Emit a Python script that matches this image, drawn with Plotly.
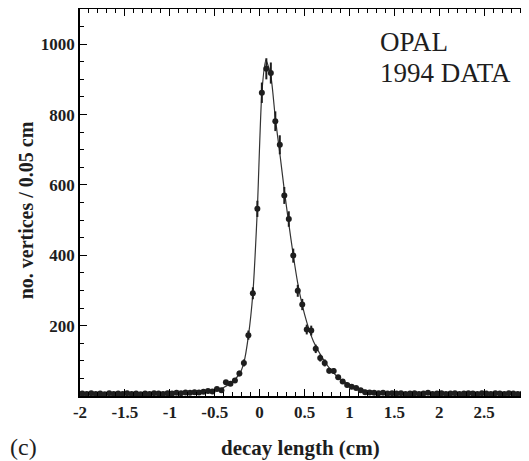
import numpy as np
import plotly.graph_objects as go

# bin layout: 0.05 cm bins from -2 to 3 cm
bin_lo = -2.0
bin_width = 0.05

# vertices per bin
counts = [7, 6, 8, 6, 7, 5, 8, 6, 7, 6,
          8, 6, 7, 5, 7, 6, 8, 7, 6, 8,
          7, 9, 8, 10, 9, 11, 10, 12, 14, 13,
          20, 16, 39, 35, 44, 64, 94, 173, 292, 532,
          862, 930, 918, 781, 714, 570, 503, 399, 299, 260,
          189, 186, 134, 108, 94, 72, 71, 53, 41, 31,
          26, 23, 16, 11, 10, 9, 8, 9, 7, 8,
          7, 8, 6, 7, 8, 6, 7, 9, 6, 7,
          8, 6, 7, 8, 6, 7, 8, 7, 6, 8,
          7, 6, 8, 7, 6, 8, 7, 6, 7, 8]
errors = [3, 2, 3, 2, 3, 2, 3, 2, 3, 2,
          3, 2, 3, 2, 3, 2, 3, 3, 2, 3,
          3, 3, 3, 3, 3, 3, 3, 3, 4, 4,
          4, 4, 6, 6, 7, 8, 10, 13, 17, 23,
          29, 30, 30, 28, 27, 24, 22, 20, 17, 16,
          14, 14, 12, 10, 10, 8, 8, 7, 6, 6,
          5, 5, 4, 3, 3, 3, 3, 3, 3, 3,
          3, 3, 2, 3, 3, 2, 3, 3, 2, 3,
          3, 2, 3, 3, 2, 3, 3, 3, 2, 3,
          3, 2, 3, 3, 2, 3, 3, 2, 3, 3]

# fitted curve, sampled from the figure
fit_x = [-2.0, -1.5, -1.0, -0.8, -0.6, -0.5, -0.4, -0.3, -0.225, -0.175, -0.125,
         -0.075, -0.025, 0.025, 0.07, 0.125, 0.175, 0.225, 0.275, 0.325, 0.375,
         0.425, 0.475, 0.525, 0.6, 0.7, 0.8, 0.9, 1.0, 1.1, 1.2, 1.4, 1.7, 2.0, 2.5, 3.0]
fit_y = [5, 5, 6, 8, 11, 15, 24, 42, 62, 95, 170,
         292, 532, 862, 955, 910, 790, 690, 585, 490, 400,
         320, 258, 210, 155, 108, 72, 48, 33, 22, 15, 9, 6, 5, 5, 5]

x_ticks = [-2, -1.5, -1, -0.5, 0, 0.5, 1, 1.5, 2, 2.5, 3]
x_labels = ['-2', '-1.5', '-1', '-0.5', '0', '0.5', '1', '1.5', '2', '2.5', '3']
y_ticks = [200, 400, 600, 800, 1000]

x_centres = bin_lo + bin_width * (np.arange(len(counts)) + 0.5)

serif = "Liberation Serif, Times New Roman, serif"
ink = '#1e1e1e'

fig = go.Figure()

fig.add_trace(go.Scatter(x=fit_x, y=fit_y, mode='lines',
                         line=dict(color='#333333', width=1.2, shape='spline', smoothing=0.6),
                         hoverinfo='skip'))

fig.add_trace(go.Scatter(x=x_centres, y=counts, mode='markers',
                         marker=dict(color=ink, size=6, symbol='circle'),
                         error_y=dict(type='data', array=errors, color=ink,
                                      thickness=2, width=0)))

axis_common = dict(showline=True, linecolor='black', linewidth=1.6, mirror='allticks',
                   ticks='inside', tickcolor='black', tickwidth=1.4, ticklen=7,
                   showgrid=False, zeroline=False, automargin=False,
                   tickfont=dict(family=serif, size=17, color=ink, weight='bold'))

fig.update_xaxes(range=[-2, 3], tickmode='array', tickvals=x_ticks, ticktext=x_labels,
                 minor=dict(tickmode='array', tickvals=list(np.round(np.arange(-2, 3.001, 0.1), 2)),
                            ticks='inside', ticklen=4, tickcolor='black', tickwidth=1.2),
                 **axis_common)
fig.update_yaxes(range=[0, 1100], tickmode='array', tickvals=y_ticks,
                 minor=dict(tickmode='array', tickvals=list(range(0, 1101, 50)),
                            ticks='inside', ticklen=4, tickcolor='black', tickwidth=1.2),
                 **axis_common)

annotations = [
    dict(text='<b>no. vertices / 0.05 cm</b>', x=-0.12, y=0.48, xref='paper', yref='paper',
         xanchor='center', yanchor='middle',
         textangle=-90, showarrow=False, font=dict(family=serif, size=20, color=ink)),
    dict(text='<b>decay length (cm)</b>', x=0.492, y=-0.134, xref='paper', yref='paper',
         xanchor='center', yanchor='middle',
         showarrow=False, font=dict(family=serif, size=21, color=ink)),
    dict(text='(c)', x=-0.125, y=-0.132, xref='paper', yref='paper',
         xanchor='center', yanchor='middle',
         showarrow=False, font=dict(family=serif, size=24, color=ink)),
    dict(text='OPAL', x=0.664, y=0.915, xref='paper', yref='paper',
         xanchor='left', yanchor='middle',
         showarrow=False, font=dict(family=serif, size=27, color=ink)),
    dict(text='1994 DATA', x=0.664, y=0.835, xref='paper', yref='paper',
         xanchor='left', yanchor='middle',
         showarrow=False, font=dict(family=serif, size=27, color=ink)),
]

# the page body has an 8px margin, so the figure is sized to fit the window
fig.update_layout(width=521, height=453, showlegend=False,
                  margin=dict(l=72, r=0, t=1, b=65),
                  plot_bgcolor='white', paper_bgcolor='white',
                  annotations=annotations)

fig.write_html("out.html")
